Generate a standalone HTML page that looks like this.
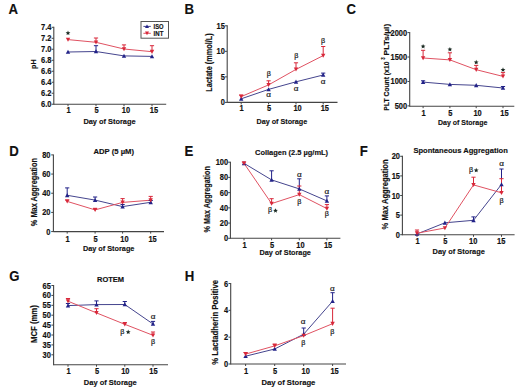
<!DOCTYPE html>
<html><head><meta charset="utf-8"><style>
html,body{margin:0;padding:0;background:#fff;width:520px;height:390px;overflow:hidden}
svg{display:block}
text{font-family:"Liberation Sans",sans-serif}
</style></head><body>
<svg width="520" height="390" viewBox="0 0 520 390">
<rect width="520" height="390" fill="#fff"/>
<text transform="translate(8.60,13.70) scale(0.88,1.035)" font-size="15" font-weight="bold" font-family="Liberation Sans" text-anchor="start" fill="#111" stroke="#111" stroke-width="0.15" >A</text>
<line x1="53.80" y1="26.80" x2="53.80" y2="104.70" stroke="#444" stroke-width="1.1"/>
<line x1="53.80" y1="104.20" x2="166.20" y2="104.20" stroke="#444" stroke-width="1.1"/>
<line x1="51.60" y1="27.30" x2="53.80" y2="27.30" stroke="#444" stroke-width="1.0"/>
<text transform="translate(51.40,30.30) scale(1,1.1)" font-size="7.5" font-weight="bold" font-family="Liberation Sans" text-anchor="end" fill="#111" stroke="#111" stroke-width="0.15" >7.4</text>
<line x1="51.60" y1="38.29" x2="53.80" y2="38.29" stroke="#444" stroke-width="1.0"/>
<text transform="translate(51.40,41.29) scale(1,1.1)" font-size="7.5" font-weight="bold" font-family="Liberation Sans" text-anchor="end" fill="#111" stroke="#111" stroke-width="0.15" >7.2</text>
<line x1="51.60" y1="49.28" x2="53.80" y2="49.28" stroke="#444" stroke-width="1.0"/>
<text transform="translate(51.40,52.28) scale(1,1.1)" font-size="7.5" font-weight="bold" font-family="Liberation Sans" text-anchor="end" fill="#111" stroke="#111" stroke-width="0.15" >7.0</text>
<line x1="51.60" y1="60.27" x2="53.80" y2="60.27" stroke="#444" stroke-width="1.0"/>
<text transform="translate(51.40,63.27) scale(1,1.1)" font-size="7.5" font-weight="bold" font-family="Liberation Sans" text-anchor="end" fill="#111" stroke="#111" stroke-width="0.15" >6.8</text>
<line x1="51.60" y1="71.26" x2="53.80" y2="71.26" stroke="#444" stroke-width="1.0"/>
<text transform="translate(51.40,74.26) scale(1,1.1)" font-size="7.5" font-weight="bold" font-family="Liberation Sans" text-anchor="end" fill="#111" stroke="#111" stroke-width="0.15" >6.6</text>
<line x1="51.60" y1="82.25" x2="53.80" y2="82.25" stroke="#444" stroke-width="1.0"/>
<text transform="translate(51.40,85.25) scale(1,1.1)" font-size="7.5" font-weight="bold" font-family="Liberation Sans" text-anchor="end" fill="#111" stroke="#111" stroke-width="0.15" >6.4</text>
<line x1="51.60" y1="93.24" x2="53.80" y2="93.24" stroke="#444" stroke-width="1.0"/>
<text transform="translate(51.40,96.24) scale(1,1.1)" font-size="7.5" font-weight="bold" font-family="Liberation Sans" text-anchor="end" fill="#111" stroke="#111" stroke-width="0.15" >6.2</text>
<line x1="51.60" y1="104.23" x2="53.80" y2="104.23" stroke="#444" stroke-width="1.0"/>
<text transform="translate(51.40,107.23) scale(1,1.1)" font-size="7.5" font-weight="bold" font-family="Liberation Sans" text-anchor="end" fill="#111" stroke="#111" stroke-width="0.15" >6.0</text>
<line x1="68.00" y1="104.20" x2="68.00" y2="106.20" stroke="#444" stroke-width="1.0"/>
<text transform="translate(68.50,113.30) scale(1,1.1)" font-size="7.5" font-weight="bold" font-family="Liberation Sans" text-anchor="middle" fill="#111" stroke="#111" stroke-width="0.15" >1</text>
<line x1="96.00" y1="104.20" x2="96.00" y2="106.20" stroke="#444" stroke-width="1.0"/>
<text transform="translate(96.50,113.30) scale(1,1.1)" font-size="7.5" font-weight="bold" font-family="Liberation Sans" text-anchor="middle" fill="#111" stroke="#111" stroke-width="0.15" >5</text>
<line x1="124.00" y1="104.20" x2="124.00" y2="106.20" stroke="#444" stroke-width="1.0"/>
<text transform="translate(126.00,113.30) scale(1,1.1)" font-size="7.5" font-weight="bold" font-family="Liberation Sans" text-anchor="middle" fill="#111" stroke="#111" stroke-width="0.15" >10</text>
<line x1="152.00" y1="104.20" x2="152.00" y2="106.20" stroke="#444" stroke-width="1.0"/>
<text transform="translate(154.00,113.30) scale(1,1.1)" font-size="7.5" font-weight="bold" font-family="Liberation Sans" text-anchor="middle" fill="#111" stroke="#111" stroke-width="0.15" >15</text>
<text transform="translate(109.50,124.10) scale(1,1.0)" font-size="7.5" font-weight="bold" font-family="Liberation Sans" text-anchor="middle" fill="#111" stroke="#111" stroke-width="0.15" textLength="52.2" lengthAdjust="spacingAndGlyphs">Day of Storage</text>
<text transform="translate(35.50,64.10) rotate(-90) scale(1,1.0)" x="0" y="0" font-size="7" font-weight="bold" font-family="Liberation Sans" text-anchor="middle" fill="#111" stroke="#111" stroke-width="0.15" textLength="9.6" lengthAdjust="spacingAndGlyphs">pH</text>
<polyline points="68.00,52.00 96.00,51.50 124.00,55.90 152.00,56.40" fill="none" stroke="#45458e" stroke-width="1.0"/>
<polyline points="68.00,39.60 96.00,42.30 124.00,49.00 152.00,51.70" fill="none" stroke="#e05262" stroke-width="1.0"/>
<line x1="96.00" y1="45.70" x2="96.00" y2="51.50" stroke="#222288" stroke-width="1.0"/>
<line x1="93.90" y1="45.70" x2="98.10" y2="45.70" stroke="#222288" stroke-width="1.0"/>
<line x1="96.00" y1="38.00" x2="96.00" y2="42.30" stroke="#d8283a" stroke-width="1.0"/>
<line x1="93.90" y1="38.00" x2="98.10" y2="38.00" stroke="#d8283a" stroke-width="1.0"/>
<line x1="124.00" y1="44.90" x2="124.00" y2="49.00" stroke="#d8283a" stroke-width="1.0"/>
<line x1="121.90" y1="44.90" x2="126.10" y2="44.90" stroke="#d8283a" stroke-width="1.0"/>
<line x1="152.00" y1="45.70" x2="152.00" y2="51.70" stroke="#d8283a" stroke-width="1.0"/>
<line x1="149.90" y1="45.70" x2="154.10" y2="45.70" stroke="#d8283a" stroke-width="1.0"/>
<path d="M65.80,53.87L70.20,53.87L68.00,49.80Z" fill="#222288"/>
<path d="M93.80,53.37L98.20,53.37L96.00,49.30Z" fill="#222288"/>
<path d="M121.80,57.77L126.20,57.77L124.00,53.70Z" fill="#222288"/>
<path d="M149.80,58.27L154.20,58.27L152.00,54.20Z" fill="#222288"/>
<path d="M65.80,37.73L70.20,37.73L68.00,41.80Z" fill="#d8283a"/>
<path d="M93.80,40.43L98.20,40.43L96.00,44.50Z" fill="#d8283a"/>
<path d="M121.80,47.13L126.20,47.13L124.00,51.20Z" fill="#d8283a"/>
<path d="M149.80,49.83L154.20,49.83L152.00,53.90Z" fill="#d8283a"/>
<polygon points="68.00,30.60 68.66,32.19 70.38,32.33 69.07,33.45 69.47,35.12 68.00,34.22 66.53,35.12 66.93,33.45 65.62,32.33 67.34,32.19" fill="#1a2a22"/>
<text transform="translate(184.50,13.70) scale(0.88,1.035)" font-size="15" font-weight="bold" font-family="Liberation Sans" text-anchor="start" fill="#111" stroke="#111" stroke-width="0.15" >B</text>
<line x1="227.20" y1="25.30" x2="227.20" y2="102.90" stroke="#444" stroke-width="1.1"/>
<line x1="227.20" y1="102.40" x2="337.50" y2="102.40" stroke="#444" stroke-width="1.1"/>
<line x1="225.00" y1="25.80" x2="227.20" y2="25.80" stroke="#444" stroke-width="1.0"/>
<text transform="translate(224.90,28.80) scale(1,1.1)" font-size="7.5" font-weight="bold" font-family="Liberation Sans" text-anchor="end" fill="#111" stroke="#111" stroke-width="0.15" >15</text>
<line x1="225.00" y1="51.33" x2="227.20" y2="51.33" stroke="#444" stroke-width="1.0"/>
<text transform="translate(224.90,54.33) scale(1,1.1)" font-size="7.5" font-weight="bold" font-family="Liberation Sans" text-anchor="end" fill="#111" stroke="#111" stroke-width="0.15" >10</text>
<line x1="225.00" y1="76.86" x2="227.20" y2="76.86" stroke="#444" stroke-width="1.0"/>
<text transform="translate(224.90,79.86) scale(1,1.1)" font-size="7.5" font-weight="bold" font-family="Liberation Sans" text-anchor="end" fill="#111" stroke="#111" stroke-width="0.15" >5</text>
<line x1="225.00" y1="102.39" x2="227.20" y2="102.39" stroke="#444" stroke-width="1.0"/>
<text transform="translate(224.90,105.39) scale(1,1.1)" font-size="7.5" font-weight="bold" font-family="Liberation Sans" text-anchor="end" fill="#111" stroke="#111" stroke-width="0.15" >0</text>
<line x1="241.20" y1="102.40" x2="241.20" y2="104.40" stroke="#444" stroke-width="1.0"/>
<text transform="translate(241.70,111.00) scale(1,1.1)" font-size="7.5" font-weight="bold" font-family="Liberation Sans" text-anchor="middle" fill="#111" stroke="#111" stroke-width="0.15" >1</text>
<line x1="268.60" y1="102.40" x2="268.60" y2="104.40" stroke="#444" stroke-width="1.0"/>
<text transform="translate(269.10,111.00) scale(1,1.1)" font-size="7.5" font-weight="bold" font-family="Liberation Sans" text-anchor="middle" fill="#111" stroke="#111" stroke-width="0.15" >5</text>
<line x1="296.00" y1="102.40" x2="296.00" y2="104.40" stroke="#444" stroke-width="1.0"/>
<text transform="translate(297.60,111.00) scale(1,1.1)" font-size="7.5" font-weight="bold" font-family="Liberation Sans" text-anchor="middle" fill="#111" stroke="#111" stroke-width="0.15" >10</text>
<line x1="323.20" y1="102.40" x2="323.20" y2="104.40" stroke="#444" stroke-width="1.0"/>
<text transform="translate(324.80,111.00) scale(1,1.1)" font-size="7.5" font-weight="bold" font-family="Liberation Sans" text-anchor="middle" fill="#111" stroke="#111" stroke-width="0.15" >15</text>
<text transform="translate(281.85,123.90) scale(1,1.0)" font-size="7.5" font-weight="bold" font-family="Liberation Sans" text-anchor="middle" fill="#111" stroke="#111" stroke-width="0.15" textLength="50.7" lengthAdjust="spacingAndGlyphs">Day of Storage</text>
<text transform="translate(212.30,62.55) rotate(-90) scale(1,1.1)" x="0" y="0" font-size="7.5" font-weight="bold" font-family="Liberation Sans" text-anchor="middle" fill="#111" stroke="#111" stroke-width="0.15" textLength="58.5" lengthAdjust="spacingAndGlyphs">Lactate (mmol/L)</text>
<polyline points="241.20,98.80 268.60,89.40 296.00,81.80 323.20,75.00" fill="none" stroke="#45458e" stroke-width="1.0"/>
<polyline points="241.20,96.60 268.60,84.90 296.00,69.40 323.20,55.60" fill="none" stroke="#e05262" stroke-width="1.0"/>
<line x1="323.20" y1="73.10" x2="323.20" y2="75.00" stroke="#222288" stroke-width="1.0"/>
<line x1="321.10" y1="73.10" x2="325.30" y2="73.10" stroke="#222288" stroke-width="1.0"/>
<line x1="241.20" y1="95.00" x2="241.20" y2="96.60" stroke="#d8283a" stroke-width="1.0"/>
<line x1="239.10" y1="95.00" x2="243.30" y2="95.00" stroke="#d8283a" stroke-width="1.0"/>
<line x1="268.60" y1="80.80" x2="268.60" y2="84.90" stroke="#d8283a" stroke-width="1.0"/>
<line x1="266.50" y1="80.80" x2="270.70" y2="80.80" stroke="#d8283a" stroke-width="1.0"/>
<line x1="296.00" y1="62.80" x2="296.00" y2="69.40" stroke="#d8283a" stroke-width="1.0"/>
<line x1="293.90" y1="62.80" x2="298.10" y2="62.80" stroke="#d8283a" stroke-width="1.0"/>
<line x1="323.20" y1="46.50" x2="323.20" y2="55.60" stroke="#d8283a" stroke-width="1.0"/>
<line x1="321.10" y1="46.50" x2="325.30" y2="46.50" stroke="#d8283a" stroke-width="1.0"/>
<path d="M239.00,100.67L243.40,100.67L241.20,96.60Z" fill="#222288"/>
<path d="M266.40,91.27L270.80,91.27L268.60,87.20Z" fill="#222288"/>
<path d="M293.80,83.67L298.20,83.67L296.00,79.60Z" fill="#222288"/>
<path d="M321.00,76.87L325.40,76.87L323.20,72.80Z" fill="#222288"/>
<path d="M239.00,94.73L243.40,94.73L241.20,98.80Z" fill="#d8283a"/>
<path d="M266.40,83.03L270.80,83.03L268.60,87.10Z" fill="#d8283a"/>
<path d="M293.80,67.53L298.20,67.53L296.00,71.60Z" fill="#d8283a"/>
<path d="M321.00,53.73L325.40,53.73L323.20,57.80Z" fill="#d8283a"/>
<text transform="translate(268.80,76.30) scale(1,1.0)" font-size="7.2" font-weight="normal" font-family="Liberation Serif" text-anchor="middle" fill="#181818" stroke="#181818" stroke-width="0.2" >β</text>
<text transform="translate(296.20,58.30) scale(1,1.0)" font-size="7.2" font-weight="normal" font-family="Liberation Serif" text-anchor="middle" fill="#181818" stroke="#181818" stroke-width="0.2" >β</text>
<text transform="translate(323.10,42.90) scale(1,1.0)" font-size="7.2" font-weight="normal" font-family="Liberation Serif" text-anchor="middle" fill="#181818" stroke="#181818" stroke-width="0.2" >β</text>
<text transform="translate(268.60,96.90) scale(1,0.82)" font-size="8.2" font-weight="normal" font-family="Liberation Serif" text-anchor="middle" fill="#181818" stroke="#181818" stroke-width="0.2" >α</text>
<text transform="translate(296.00,90.80) scale(1,0.82)" font-size="8.2" font-weight="normal" font-family="Liberation Serif" text-anchor="middle" fill="#181818" stroke="#181818" stroke-width="0.2" >α</text>
<text transform="translate(323.10,83.60) scale(1,0.82)" font-size="8.2" font-weight="normal" font-family="Liberation Serif" text-anchor="middle" fill="#181818" stroke="#181818" stroke-width="0.2" >α</text>
<text transform="translate(346.60,13.80) scale(0.88,1.035)" font-size="15" font-weight="bold" font-family="Liberation Sans" text-anchor="start" fill="#111" stroke="#111" stroke-width="0.15" >C</text>
<line x1="409.70" y1="32.10" x2="409.70" y2="106.70" stroke="#444" stroke-width="1.1"/>
<line x1="409.70" y1="106.20" x2="514.30" y2="106.20" stroke="#444" stroke-width="1.1"/>
<line x1="407.50" y1="32.60" x2="409.70" y2="32.60" stroke="#444" stroke-width="1.0"/>
<text transform="translate(407.20,35.60) scale(1,1.1)" font-size="7.5" font-weight="bold" font-family="Liberation Sans" text-anchor="end" fill="#111" stroke="#111" stroke-width="0.15" >2000</text>
<line x1="407.50" y1="57.03" x2="409.70" y2="57.03" stroke="#444" stroke-width="1.0"/>
<text transform="translate(407.20,60.03) scale(1,1.1)" font-size="7.5" font-weight="bold" font-family="Liberation Sans" text-anchor="end" fill="#111" stroke="#111" stroke-width="0.15" >1500</text>
<line x1="407.50" y1="81.46" x2="409.70" y2="81.46" stroke="#444" stroke-width="1.0"/>
<text transform="translate(407.20,84.46) scale(1,1.1)" font-size="7.5" font-weight="bold" font-family="Liberation Sans" text-anchor="end" fill="#111" stroke="#111" stroke-width="0.15" >1000</text>
<line x1="407.50" y1="105.89" x2="409.70" y2="105.89" stroke="#444" stroke-width="1.0"/>
<text transform="translate(407.20,108.89) scale(1,1.1)" font-size="7.5" font-weight="bold" font-family="Liberation Sans" text-anchor="end" fill="#111" stroke="#111" stroke-width="0.15" >500</text>
<line x1="423.10" y1="106.20" x2="423.10" y2="108.20" stroke="#444" stroke-width="1.0"/>
<text transform="translate(423.60,115.50) scale(1,1.1)" font-size="7.5" font-weight="bold" font-family="Liberation Sans" text-anchor="middle" fill="#111" stroke="#111" stroke-width="0.15" >1</text>
<line x1="449.90" y1="106.20" x2="449.90" y2="108.20" stroke="#444" stroke-width="1.0"/>
<text transform="translate(450.40,115.50) scale(1,1.1)" font-size="7.5" font-weight="bold" font-family="Liberation Sans" text-anchor="middle" fill="#111" stroke="#111" stroke-width="0.15" >5</text>
<line x1="476.20" y1="106.20" x2="476.20" y2="108.20" stroke="#444" stroke-width="1.0"/>
<text transform="translate(477.60,115.50) scale(1,1.1)" font-size="7.5" font-weight="bold" font-family="Liberation Sans" text-anchor="middle" fill="#111" stroke="#111" stroke-width="0.15" >10</text>
<line x1="503.00" y1="106.20" x2="503.00" y2="108.20" stroke="#444" stroke-width="1.0"/>
<text transform="translate(504.40,115.50) scale(1,1.1)" font-size="7.5" font-weight="bold" font-family="Liberation Sans" text-anchor="middle" fill="#111" stroke="#111" stroke-width="0.15" >15</text>
<text transform="translate(462.65,125.00) scale(1,1.0)" font-size="7.5" font-weight="bold" font-family="Liberation Sans" text-anchor="middle" fill="#111" stroke="#111" stroke-width="0.15" textLength="49.3" lengthAdjust="spacingAndGlyphs">Day of Storage</text>
<text transform="translate(389.00,86.15) rotate(-90) scale(1,1.1)" x="0" y="0" font-size="7.0" font-weight="bold" font-family="Liberation Sans" text-anchor="middle" fill="#111" stroke="#111" stroke-width="0.15" textLength="49.1" lengthAdjust="spacingAndGlyphs">PLT Count (x10</text>
<text transform="translate(385.00,58.60) rotate(-90) scale(1,1.1)" x="0" y="0" font-size="5.0" font-weight="bold" font-family="Liberation Sans" text-anchor="middle" fill="#111" stroke="#111" stroke-width="0.15" textLength="2.4" lengthAdjust="spacingAndGlyphs">3</text>
<text transform="translate(389.00,39.60) rotate(-90) scale(1,1.1)" x="0" y="0" font-size="7.0" font-weight="bold" font-family="Liberation Sans" text-anchor="middle" fill="#111" stroke="#111" stroke-width="0.15" textLength="31.6" lengthAdjust="spacingAndGlyphs">PLTs/µl)</text>
<polyline points="423.10,82.10 449.90,84.40 476.20,85.30 503.00,88.00" fill="none" stroke="#45458e" stroke-width="1.0"/>
<polyline points="423.10,58.00 449.90,59.90 476.20,69.70 503.00,76.40" fill="none" stroke="#e05262" stroke-width="1.0"/>
<line x1="423.10" y1="80.80" x2="423.10" y2="82.10" stroke="#222288" stroke-width="1.0"/>
<line x1="421.00" y1="80.80" x2="425.20" y2="80.80" stroke="#222288" stroke-width="1.0"/>
<line x1="503.00" y1="86.50" x2="503.00" y2="88.00" stroke="#222288" stroke-width="1.0"/>
<line x1="500.90" y1="86.50" x2="505.10" y2="86.50" stroke="#222288" stroke-width="1.0"/>
<line x1="423.10" y1="50.30" x2="423.10" y2="58.00" stroke="#d8283a" stroke-width="1.0"/>
<line x1="421.00" y1="50.30" x2="425.20" y2="50.30" stroke="#d8283a" stroke-width="1.0"/>
<line x1="449.90" y1="52.80" x2="449.90" y2="59.90" stroke="#d8283a" stroke-width="1.0"/>
<line x1="447.80" y1="52.80" x2="452.00" y2="52.80" stroke="#d8283a" stroke-width="1.0"/>
<line x1="476.20" y1="65.40" x2="476.20" y2="69.70" stroke="#d8283a" stroke-width="1.0"/>
<line x1="474.10" y1="65.40" x2="478.30" y2="65.40" stroke="#d8283a" stroke-width="1.0"/>
<line x1="503.00" y1="72.60" x2="503.00" y2="76.40" stroke="#d8283a" stroke-width="1.0"/>
<line x1="500.90" y1="72.60" x2="505.10" y2="72.60" stroke="#d8283a" stroke-width="1.0"/>
<path d="M420.90,83.97L425.30,83.97L423.10,79.90Z" fill="#222288"/>
<path d="M447.70,86.27L452.10,86.27L449.90,82.20Z" fill="#222288"/>
<path d="M474.00,87.17L478.40,87.17L476.20,83.10Z" fill="#222288"/>
<path d="M500.80,89.87L505.20,89.87L503.00,85.80Z" fill="#222288"/>
<path d="M420.90,56.13L425.30,56.13L423.10,60.20Z" fill="#d8283a"/>
<path d="M447.70,58.03L452.10,58.03L449.90,62.10Z" fill="#d8283a"/>
<path d="M474.00,67.83L478.40,67.83L476.20,71.90Z" fill="#d8283a"/>
<path d="M500.80,74.53L505.20,74.53L503.00,78.60Z" fill="#d8283a"/>
<polygon points="423.10,44.00 423.76,45.59 425.48,45.73 424.17,46.85 424.57,48.52 423.10,47.62 421.63,48.52 422.03,46.85 420.72,45.73 422.44,45.59" fill="#1a2a22"/>
<polygon points="449.90,47.00 450.56,48.59 452.28,48.73 450.97,49.85 451.37,51.52 449.90,50.62 448.43,51.52 448.83,49.85 447.52,48.73 449.24,48.59" fill="#1a2a22"/>
<polygon points="476.20,59.80 476.86,61.39 478.58,61.53 477.27,62.65 477.67,64.32 476.20,63.42 474.73,64.32 475.13,62.65 473.82,61.53 475.54,61.39" fill="#1a2a22"/>
<polygon points="503.00,67.30 503.66,68.89 505.38,69.03 504.07,70.15 504.47,71.82 503.00,70.92 501.53,71.82 501.93,70.15 500.62,69.03 502.34,68.89" fill="#1a2a22"/>
<text transform="translate(9.30,155.80) scale(0.88,1.035)" font-size="15" font-weight="bold" font-family="Liberation Sans" text-anchor="start" fill="#111" stroke="#111" stroke-width="0.15" >D</text>
<line x1="53.40" y1="154.40" x2="53.40" y2="232.10" stroke="#444" stroke-width="1.1"/>
<line x1="53.40" y1="231.60" x2="164.00" y2="231.60" stroke="#444" stroke-width="1.1"/>
<line x1="51.20" y1="154.90" x2="53.40" y2="154.90" stroke="#444" stroke-width="1.0"/>
<text transform="translate(50.50,157.90) scale(1,1.1)" font-size="7.5" font-weight="bold" font-family="Liberation Sans" text-anchor="end" fill="#111" stroke="#111" stroke-width="0.15" >80</text>
<line x1="51.20" y1="174.07" x2="53.40" y2="174.07" stroke="#444" stroke-width="1.0"/>
<text transform="translate(50.50,177.07) scale(1,1.1)" font-size="7.5" font-weight="bold" font-family="Liberation Sans" text-anchor="end" fill="#111" stroke="#111" stroke-width="0.15" >60</text>
<line x1="51.20" y1="193.24" x2="53.40" y2="193.24" stroke="#444" stroke-width="1.0"/>
<text transform="translate(50.50,196.24) scale(1,1.1)" font-size="7.5" font-weight="bold" font-family="Liberation Sans" text-anchor="end" fill="#111" stroke="#111" stroke-width="0.15" >40</text>
<line x1="51.20" y1="212.41" x2="53.40" y2="212.41" stroke="#444" stroke-width="1.0"/>
<text transform="translate(50.50,215.41) scale(1,1.1)" font-size="7.5" font-weight="bold" font-family="Liberation Sans" text-anchor="end" fill="#111" stroke="#111" stroke-width="0.15" >20</text>
<line x1="51.20" y1="231.58" x2="53.40" y2="231.58" stroke="#444" stroke-width="1.0"/>
<text transform="translate(50.50,234.58) scale(1,1.1)" font-size="7.5" font-weight="bold" font-family="Liberation Sans" text-anchor="end" fill="#111" stroke="#111" stroke-width="0.15" >0</text>
<line x1="67.20" y1="231.60" x2="67.20" y2="233.60" stroke="#444" stroke-width="1.0"/>
<text transform="translate(67.70,241.60) scale(1,1.1)" font-size="7.5" font-weight="bold" font-family="Liberation Sans" text-anchor="middle" fill="#111" stroke="#111" stroke-width="0.15" >1</text>
<line x1="95.10" y1="231.60" x2="95.10" y2="233.60" stroke="#444" stroke-width="1.0"/>
<text transform="translate(95.60,241.60) scale(1,1.1)" font-size="7.5" font-weight="bold" font-family="Liberation Sans" text-anchor="middle" fill="#111" stroke="#111" stroke-width="0.15" >5</text>
<line x1="122.60" y1="231.60" x2="122.60" y2="233.60" stroke="#444" stroke-width="1.0"/>
<text transform="translate(124.50,241.60) scale(1,1.1)" font-size="7.5" font-weight="bold" font-family="Liberation Sans" text-anchor="middle" fill="#111" stroke="#111" stroke-width="0.15" >10</text>
<line x1="150.70" y1="231.60" x2="150.70" y2="233.60" stroke="#444" stroke-width="1.0"/>
<text transform="translate(152.60,241.60) scale(1,1.1)" font-size="7.5" font-weight="bold" font-family="Liberation Sans" text-anchor="middle" fill="#111" stroke="#111" stroke-width="0.15" >15</text>
<text transform="translate(108.65,251.20) scale(1,1.0)" font-size="7.5" font-weight="bold" font-family="Liberation Sans" text-anchor="middle" fill="#111" stroke="#111" stroke-width="0.15" textLength="51.5" lengthAdjust="spacingAndGlyphs">Day of Storage</text>
<text transform="translate(36.80,192.15) rotate(-90) scale(1,1.1)" x="0" y="0" font-size="7.5" font-weight="bold" font-family="Liberation Sans" text-anchor="middle" fill="#111" stroke="#111" stroke-width="0.15" textLength="68.1" lengthAdjust="spacingAndGlyphs">% Max Aggregation</text>
<text transform="translate(113.75,154.20) scale(1,1.0)" font-size="7.3" font-weight="bold" font-family="Liberation Sans" text-anchor="middle" fill="#111" stroke="#111" stroke-width="0.15" textLength="40.5" lengthAdjust="spacingAndGlyphs">ADP (5 µM)</text>
<polyline points="67.20,195.30 95.10,200.10 122.60,206.60 150.70,202.30" fill="none" stroke="#45458e" stroke-width="1.0"/>
<polyline points="67.20,201.40 95.10,209.90 122.60,202.40 150.70,200.20" fill="none" stroke="#e05262" stroke-width="1.0"/>
<line x1="67.20" y1="187.90" x2="67.20" y2="195.30" stroke="#222288" stroke-width="1.0"/>
<line x1="65.10" y1="187.90" x2="69.30" y2="187.90" stroke="#222288" stroke-width="1.0"/>
<line x1="95.10" y1="197.00" x2="95.10" y2="200.10" stroke="#222288" stroke-width="1.0"/>
<line x1="93.00" y1="197.00" x2="97.20" y2="197.00" stroke="#222288" stroke-width="1.0"/>
<line x1="122.60" y1="204.50" x2="122.60" y2="206.60" stroke="#222288" stroke-width="1.0"/>
<line x1="120.50" y1="204.50" x2="124.70" y2="204.50" stroke="#222288" stroke-width="1.0"/>
<line x1="150.70" y1="200.50" x2="150.70" y2="202.30" stroke="#222288" stroke-width="1.0"/>
<line x1="148.60" y1="200.50" x2="152.80" y2="200.50" stroke="#222288" stroke-width="1.0"/>
<line x1="67.20" y1="200.00" x2="67.20" y2="201.40" stroke="#d8283a" stroke-width="1.0"/>
<line x1="65.10" y1="200.00" x2="69.30" y2="200.00" stroke="#d8283a" stroke-width="1.0"/>
<line x1="95.10" y1="208.30" x2="95.10" y2="209.90" stroke="#d8283a" stroke-width="1.0"/>
<line x1="93.00" y1="208.30" x2="97.20" y2="208.30" stroke="#d8283a" stroke-width="1.0"/>
<line x1="122.60" y1="198.60" x2="122.60" y2="202.40" stroke="#d8283a" stroke-width="1.0"/>
<line x1="120.50" y1="198.60" x2="124.70" y2="198.60" stroke="#d8283a" stroke-width="1.0"/>
<line x1="150.70" y1="196.40" x2="150.70" y2="200.20" stroke="#d8283a" stroke-width="1.0"/>
<line x1="148.60" y1="196.40" x2="152.80" y2="196.40" stroke="#d8283a" stroke-width="1.0"/>
<path d="M65.00,197.17L69.40,197.17L67.20,193.10Z" fill="#222288"/>
<path d="M92.90,201.97L97.30,201.97L95.10,197.90Z" fill="#222288"/>
<path d="M120.40,208.47L124.80,208.47L122.60,204.40Z" fill="#222288"/>
<path d="M148.50,204.17L152.90,204.17L150.70,200.10Z" fill="#222288"/>
<path d="M65.00,199.53L69.40,199.53L67.20,203.60Z" fill="#d8283a"/>
<path d="M92.90,208.03L97.30,208.03L95.10,212.10Z" fill="#d8283a"/>
<path d="M120.40,200.53L124.80,200.53L122.60,204.60Z" fill="#d8283a"/>
<path d="M148.50,198.33L152.90,198.33L150.70,202.40Z" fill="#d8283a"/>
<text transform="translate(184.60,155.80) scale(0.88,1.035)" font-size="15" font-weight="bold" font-family="Liberation Sans" text-anchor="start" fill="#111" stroke="#111" stroke-width="0.15" >E</text>
<line x1="230.40" y1="161.70" x2="230.40" y2="238.80" stroke="#444" stroke-width="1.1"/>
<line x1="230.40" y1="238.30" x2="340.40" y2="238.30" stroke="#444" stroke-width="1.1"/>
<line x1="228.20" y1="162.20" x2="230.40" y2="162.20" stroke="#444" stroke-width="1.0"/>
<text transform="translate(228.20,165.20) scale(1,1.1)" font-size="7.5" font-weight="bold" font-family="Liberation Sans" text-anchor="end" fill="#111" stroke="#111" stroke-width="0.15" >100</text>
<line x1="228.20" y1="177.42" x2="230.40" y2="177.42" stroke="#444" stroke-width="1.0"/>
<text transform="translate(228.20,180.42) scale(1,1.1)" font-size="7.5" font-weight="bold" font-family="Liberation Sans" text-anchor="end" fill="#111" stroke="#111" stroke-width="0.15" >80</text>
<line x1="228.20" y1="192.64" x2="230.40" y2="192.64" stroke="#444" stroke-width="1.0"/>
<text transform="translate(228.20,195.64) scale(1,1.1)" font-size="7.5" font-weight="bold" font-family="Liberation Sans" text-anchor="end" fill="#111" stroke="#111" stroke-width="0.15" >60</text>
<line x1="228.20" y1="207.86" x2="230.40" y2="207.86" stroke="#444" stroke-width="1.0"/>
<text transform="translate(228.20,210.86) scale(1,1.1)" font-size="7.5" font-weight="bold" font-family="Liberation Sans" text-anchor="end" fill="#111" stroke="#111" stroke-width="0.15" >40</text>
<line x1="228.20" y1="223.08" x2="230.40" y2="223.08" stroke="#444" stroke-width="1.0"/>
<text transform="translate(228.20,226.08) scale(1,1.1)" font-size="7.5" font-weight="bold" font-family="Liberation Sans" text-anchor="end" fill="#111" stroke="#111" stroke-width="0.15" >20</text>
<line x1="228.20" y1="238.30" x2="230.40" y2="238.30" stroke="#444" stroke-width="1.0"/>
<text transform="translate(228.20,241.30) scale(1,1.1)" font-size="7.5" font-weight="bold" font-family="Liberation Sans" text-anchor="end" fill="#111" stroke="#111" stroke-width="0.15" >0</text>
<line x1="244.00" y1="238.30" x2="244.00" y2="240.30" stroke="#444" stroke-width="1.0"/>
<text transform="translate(244.50,247.60) scale(1,1.1)" font-size="7.5" font-weight="bold" font-family="Liberation Sans" text-anchor="middle" fill="#111" stroke="#111" stroke-width="0.15" >1</text>
<line x1="271.60" y1="238.30" x2="271.60" y2="240.30" stroke="#444" stroke-width="1.0"/>
<text transform="translate(272.10,247.60) scale(1,1.1)" font-size="7.5" font-weight="bold" font-family="Liberation Sans" text-anchor="middle" fill="#111" stroke="#111" stroke-width="0.15" >5</text>
<line x1="299.30" y1="238.30" x2="299.30" y2="240.30" stroke="#444" stroke-width="1.0"/>
<text transform="translate(300.50,247.60) scale(1,1.1)" font-size="7.5" font-weight="bold" font-family="Liberation Sans" text-anchor="middle" fill="#111" stroke="#111" stroke-width="0.15" >10</text>
<line x1="326.90" y1="238.30" x2="326.90" y2="240.30" stroke="#444" stroke-width="1.0"/>
<text transform="translate(328.10,247.60) scale(1,1.1)" font-size="7.5" font-weight="bold" font-family="Liberation Sans" text-anchor="middle" fill="#111" stroke="#111" stroke-width="0.15" >15</text>
<text transform="translate(285.20,255.00) scale(1,1.0)" font-size="7.5" font-weight="bold" font-family="Liberation Sans" text-anchor="middle" fill="#111" stroke="#111" stroke-width="0.15" textLength="51.4" lengthAdjust="spacingAndGlyphs">Day of Storage</text>
<text transform="translate(209.80,199.30) rotate(-90) scale(1,1.1)" x="0" y="0" font-size="7.5" font-weight="bold" font-family="Liberation Sans" text-anchor="middle" fill="#111" stroke="#111" stroke-width="0.15" textLength="66.2" lengthAdjust="spacingAndGlyphs">% Max Aggregation</text>
<text transform="translate(291.55,154.80) scale(1,1.0)" font-size="7.3" font-weight="bold" font-family="Liberation Sans" text-anchor="middle" fill="#111" stroke="#111" stroke-width="0.15" textLength="73.1" lengthAdjust="spacingAndGlyphs">Collagen (2.5 µg/mL)</text>
<polyline points="244.00,163.30 271.60,179.90 299.30,188.90 326.90,200.90" fill="none" stroke="#45458e" stroke-width="1.0"/>
<polyline points="244.00,163.30 271.60,203.60 299.30,194.60 326.90,208.60" fill="none" stroke="#e05262" stroke-width="1.0"/>
<line x1="271.60" y1="170.80" x2="271.60" y2="179.90" stroke="#222288" stroke-width="1.0"/>
<line x1="269.50" y1="170.80" x2="273.70" y2="170.80" stroke="#222288" stroke-width="1.0"/>
<line x1="299.30" y1="178.80" x2="299.30" y2="188.90" stroke="#222288" stroke-width="1.0"/>
<line x1="297.20" y1="178.80" x2="301.40" y2="178.80" stroke="#222288" stroke-width="1.0"/>
<line x1="326.90" y1="195.90" x2="326.90" y2="200.90" stroke="#222288" stroke-width="1.0"/>
<line x1="324.80" y1="195.90" x2="329.00" y2="195.90" stroke="#222288" stroke-width="1.0"/>
<line x1="244.00" y1="162.00" x2="244.00" y2="163.30" stroke="#d8283a" stroke-width="1.0"/>
<line x1="241.90" y1="162.00" x2="246.10" y2="162.00" stroke="#d8283a" stroke-width="1.0"/>
<line x1="271.60" y1="198.70" x2="271.60" y2="203.60" stroke="#d8283a" stroke-width="1.0"/>
<line x1="269.50" y1="198.70" x2="273.70" y2="198.70" stroke="#d8283a" stroke-width="1.0"/>
<line x1="299.30" y1="186.00" x2="299.30" y2="194.60" stroke="#d8283a" stroke-width="1.0"/>
<line x1="297.20" y1="186.00" x2="301.40" y2="186.00" stroke="#d8283a" stroke-width="1.0"/>
<line x1="326.90" y1="204.60" x2="326.90" y2="208.60" stroke="#d8283a" stroke-width="1.0"/>
<line x1="324.80" y1="204.60" x2="329.00" y2="204.60" stroke="#d8283a" stroke-width="1.0"/>
<path d="M241.80,165.17L246.20,165.17L244.00,161.10Z" fill="#222288"/>
<path d="M269.40,181.77L273.80,181.77L271.60,177.70Z" fill="#222288"/>
<path d="M297.10,190.77L301.50,190.77L299.30,186.70Z" fill="#222288"/>
<path d="M324.70,202.77L329.10,202.77L326.90,198.70Z" fill="#222288"/>
<path d="M241.80,161.43L246.20,161.43L244.00,165.50Z" fill="#d8283a"/>
<path d="M269.40,201.73L273.80,201.73L271.60,205.80Z" fill="#d8283a"/>
<path d="M297.10,192.73L301.50,192.73L299.30,196.80Z" fill="#d8283a"/>
<path d="M324.70,206.73L329.10,206.73L326.90,210.80Z" fill="#d8283a"/>
<text transform="translate(299.30,176.60) scale(1,0.82)" font-size="8.2" font-weight="normal" font-family="Liberation Serif" text-anchor="middle" fill="#181818" stroke="#181818" stroke-width="0.2" >α</text>
<text transform="translate(326.90,194.00) scale(1,0.82)" font-size="8.2" font-weight="normal" font-family="Liberation Serif" text-anchor="middle" fill="#181818" stroke="#181818" stroke-width="0.2" >α</text>
<text transform="translate(270.10,212.10) scale(1,1.0)" font-size="7.2" font-weight="normal" font-family="Liberation Serif" text-anchor="middle" fill="#181818" stroke="#181818" stroke-width="0.2" >β</text>
<polygon points="275.50,208.20 276.16,209.79 277.88,209.93 276.57,211.05 276.97,212.72 275.50,211.83 274.03,212.72 274.43,211.05 273.12,209.93 274.84,209.79" fill="#1a2a22"/>
<text transform="translate(299.40,204.00) scale(1,1.0)" font-size="7.2" font-weight="normal" font-family="Liberation Serif" text-anchor="middle" fill="#181818" stroke="#181818" stroke-width="0.2" >β</text>
<text transform="translate(326.90,215.70) scale(1,1.0)" font-size="7.2" font-weight="normal" font-family="Liberation Serif" text-anchor="middle" fill="#181818" stroke="#181818" stroke-width="0.2" >β</text>
<text transform="translate(359.70,155.80) scale(0.88,1.035)" font-size="15" font-weight="bold" font-family="Liberation Sans" text-anchor="start" fill="#111" stroke="#111" stroke-width="0.15" >F</text>
<line x1="402.40" y1="155.70" x2="402.40" y2="235.30" stroke="#444" stroke-width="1.1"/>
<line x1="402.40" y1="234.80" x2="514.60" y2="234.80" stroke="#444" stroke-width="1.1"/>
<line x1="400.20" y1="156.30" x2="402.40" y2="156.30" stroke="#444" stroke-width="1.0"/>
<text transform="translate(400.00,159.30) scale(1,1.1)" font-size="7.5" font-weight="bold" font-family="Liberation Sans" text-anchor="end" fill="#111" stroke="#111" stroke-width="0.15" >20</text>
<line x1="400.20" y1="175.90" x2="402.40" y2="175.90" stroke="#444" stroke-width="1.0"/>
<text transform="translate(400.00,178.90) scale(1,1.1)" font-size="7.5" font-weight="bold" font-family="Liberation Sans" text-anchor="end" fill="#111" stroke="#111" stroke-width="0.15" >15</text>
<line x1="400.20" y1="195.50" x2="402.40" y2="195.50" stroke="#444" stroke-width="1.0"/>
<text transform="translate(400.00,198.50) scale(1,1.1)" font-size="7.5" font-weight="bold" font-family="Liberation Sans" text-anchor="end" fill="#111" stroke="#111" stroke-width="0.15" >10</text>
<line x1="400.20" y1="215.10" x2="402.40" y2="215.10" stroke="#444" stroke-width="1.0"/>
<text transform="translate(400.00,218.10) scale(1,1.1)" font-size="7.5" font-weight="bold" font-family="Liberation Sans" text-anchor="end" fill="#111" stroke="#111" stroke-width="0.15" >5</text>
<line x1="400.20" y1="234.70" x2="402.40" y2="234.70" stroke="#444" stroke-width="1.0"/>
<text transform="translate(400.00,237.70) scale(1,1.1)" font-size="7.5" font-weight="bold" font-family="Liberation Sans" text-anchor="end" fill="#111" stroke="#111" stroke-width="0.15" >0</text>
<line x1="417.00" y1="234.80" x2="417.00" y2="236.80" stroke="#444" stroke-width="1.0"/>
<text transform="translate(417.50,244.30) scale(1,1.1)" font-size="7.5" font-weight="bold" font-family="Liberation Sans" text-anchor="middle" fill="#111" stroke="#111" stroke-width="0.15" >1</text>
<line x1="444.90" y1="234.80" x2="444.90" y2="236.80" stroke="#444" stroke-width="1.0"/>
<text transform="translate(445.40,244.30) scale(1,1.1)" font-size="7.5" font-weight="bold" font-family="Liberation Sans" text-anchor="middle" fill="#111" stroke="#111" stroke-width="0.15" >5</text>
<line x1="473.50" y1="234.80" x2="473.50" y2="236.80" stroke="#444" stroke-width="1.0"/>
<text transform="translate(473.20,244.30) scale(1,1.1)" font-size="7.5" font-weight="bold" font-family="Liberation Sans" text-anchor="middle" fill="#111" stroke="#111" stroke-width="0.15" >10</text>
<line x1="501.50" y1="234.80" x2="501.50" y2="236.80" stroke="#444" stroke-width="1.0"/>
<text transform="translate(501.20,244.30) scale(1,1.1)" font-size="7.5" font-weight="bold" font-family="Liberation Sans" text-anchor="middle" fill="#111" stroke="#111" stroke-width="0.15" >15</text>
<text transform="translate(458.70,254.30) scale(1,1.0)" font-size="7.5" font-weight="bold" font-family="Liberation Sans" text-anchor="middle" fill="#111" stroke="#111" stroke-width="0.15" textLength="52.2" lengthAdjust="spacingAndGlyphs">Day of Storage</text>
<text transform="translate(387.80,194.40) rotate(-90) scale(1,1.1)" x="0" y="0" font-size="7.5" font-weight="bold" font-family="Liberation Sans" text-anchor="middle" fill="#111" stroke="#111" stroke-width="0.15" textLength="70.0" lengthAdjust="spacingAndGlyphs">% Max Aggregation</text>
<text transform="translate(460.60,152.80) scale(1,1.0)" font-size="7.3" font-weight="bold" font-family="Liberation Sans" text-anchor="middle" fill="#111" stroke="#111" stroke-width="0.15" textLength="94.4" lengthAdjust="spacingAndGlyphs">Spontaneous Aggregation</text>
<polyline points="417.00,234.00 444.90,222.80 473.50,220.30 501.50,184.40" fill="none" stroke="#45458e" stroke-width="1.0"/>
<polyline points="417.00,233.20 444.90,228.00 473.50,184.90 501.50,192.80" fill="none" stroke="#e05262" stroke-width="1.0"/>
<line x1="473.50" y1="216.90" x2="473.50" y2="220.30" stroke="#222288" stroke-width="1.0"/>
<line x1="471.40" y1="216.90" x2="475.60" y2="216.90" stroke="#222288" stroke-width="1.0"/>
<line x1="501.50" y1="169.00" x2="501.50" y2="184.40" stroke="#222288" stroke-width="1.0"/>
<line x1="499.40" y1="169.00" x2="503.60" y2="169.00" stroke="#222288" stroke-width="1.0"/>
<line x1="417.00" y1="230.00" x2="417.00" y2="233.20" stroke="#d8283a" stroke-width="1.0"/>
<line x1="414.90" y1="230.00" x2="419.10" y2="230.00" stroke="#d8283a" stroke-width="1.0"/>
<line x1="473.50" y1="177.20" x2="473.50" y2="184.90" stroke="#d8283a" stroke-width="1.0"/>
<line x1="471.40" y1="177.20" x2="475.60" y2="177.20" stroke="#d8283a" stroke-width="1.0"/>
<line x1="501.50" y1="178.70" x2="501.50" y2="192.80" stroke="#d8283a" stroke-width="1.0"/>
<line x1="499.40" y1="178.70" x2="503.60" y2="178.70" stroke="#d8283a" stroke-width="1.0"/>
<path d="M414.80,235.87L419.20,235.87L417.00,231.80Z" fill="#222288"/>
<path d="M442.70,224.67L447.10,224.67L444.90,220.60Z" fill="#222288"/>
<path d="M471.30,222.17L475.70,222.17L473.50,218.10Z" fill="#222288"/>
<path d="M499.30,186.27L503.70,186.27L501.50,182.20Z" fill="#222288"/>
<path d="M414.80,231.33L419.20,231.33L417.00,235.40Z" fill="#d8283a"/>
<path d="M442.70,226.13L447.10,226.13L444.90,230.20Z" fill="#d8283a"/>
<path d="M471.30,183.03L475.70,183.03L473.50,187.10Z" fill="#d8283a"/>
<path d="M499.30,190.93L503.70,190.93L501.50,195.00Z" fill="#d8283a"/>
<text transform="translate(471.00,171.70) scale(1,1.0)" font-size="7.2" font-weight="normal" font-family="Liberation Serif" text-anchor="middle" fill="#181818" stroke="#181818" stroke-width="0.2" >β</text>
<polygon points="476.20,167.80 476.86,169.39 478.58,169.53 477.27,170.65 477.67,172.32 476.20,171.43 474.73,172.32 475.13,170.65 473.82,169.53 475.54,169.39" fill="#1a2a22"/>
<text transform="translate(501.50,165.90) scale(1,0.82)" font-size="8.2" font-weight="normal" font-family="Liberation Serif" text-anchor="middle" fill="#181818" stroke="#181818" stroke-width="0.2" >α</text>
<text transform="translate(501.50,202.70) scale(1,1.0)" font-size="7.2" font-weight="normal" font-family="Liberation Serif" text-anchor="middle" fill="#181818" stroke="#181818" stroke-width="0.2" >β</text>
<text transform="translate(9.30,280.70) scale(0.88,1.035)" font-size="15" font-weight="bold" font-family="Liberation Sans" text-anchor="start" fill="#111" stroke="#111" stroke-width="0.15" >G</text>
<line x1="53.60" y1="285.00" x2="53.60" y2="365.20" stroke="#444" stroke-width="1.1"/>
<line x1="53.60" y1="364.70" x2="168.00" y2="364.70" stroke="#444" stroke-width="1.1"/>
<line x1="51.40" y1="285.50" x2="53.60" y2="285.50" stroke="#444" stroke-width="1.0"/>
<text transform="translate(50.80,288.50) scale(1,1.1)" font-size="7.5" font-weight="bold" font-family="Liberation Sans" text-anchor="end" fill="#111" stroke="#111" stroke-width="0.15" >65</text>
<line x1="51.40" y1="295.40" x2="53.60" y2="295.40" stroke="#444" stroke-width="1.0"/>
<text transform="translate(50.80,298.40) scale(1,1.1)" font-size="7.5" font-weight="bold" font-family="Liberation Sans" text-anchor="end" fill="#111" stroke="#111" stroke-width="0.15" >60</text>
<line x1="51.40" y1="305.30" x2="53.60" y2="305.30" stroke="#444" stroke-width="1.0"/>
<text transform="translate(50.80,308.30) scale(1,1.1)" font-size="7.5" font-weight="bold" font-family="Liberation Sans" text-anchor="end" fill="#111" stroke="#111" stroke-width="0.15" >55</text>
<line x1="51.40" y1="315.20" x2="53.60" y2="315.20" stroke="#444" stroke-width="1.0"/>
<text transform="translate(50.80,318.20) scale(1,1.1)" font-size="7.5" font-weight="bold" font-family="Liberation Sans" text-anchor="end" fill="#111" stroke="#111" stroke-width="0.15" >50</text>
<line x1="51.40" y1="325.10" x2="53.60" y2="325.10" stroke="#444" stroke-width="1.0"/>
<text transform="translate(50.80,328.10) scale(1,1.1)" font-size="7.5" font-weight="bold" font-family="Liberation Sans" text-anchor="end" fill="#111" stroke="#111" stroke-width="0.15" >45</text>
<line x1="51.40" y1="335.00" x2="53.60" y2="335.00" stroke="#444" stroke-width="1.0"/>
<text transform="translate(50.80,338.00) scale(1,1.1)" font-size="7.5" font-weight="bold" font-family="Liberation Sans" text-anchor="end" fill="#111" stroke="#111" stroke-width="0.15" >40</text>
<line x1="51.40" y1="344.90" x2="53.60" y2="344.90" stroke="#444" stroke-width="1.0"/>
<text transform="translate(50.80,347.90) scale(1,1.1)" font-size="7.5" font-weight="bold" font-family="Liberation Sans" text-anchor="end" fill="#111" stroke="#111" stroke-width="0.15" >35</text>
<line x1="51.40" y1="354.80" x2="53.60" y2="354.80" stroke="#444" stroke-width="1.0"/>
<text transform="translate(50.80,357.80) scale(1,1.1)" font-size="7.5" font-weight="bold" font-family="Liberation Sans" text-anchor="end" fill="#111" stroke="#111" stroke-width="0.15" >30</text>
<line x1="68.00" y1="364.70" x2="68.00" y2="366.70" stroke="#444" stroke-width="1.0"/>
<text transform="translate(68.50,373.50) scale(1,1.1)" font-size="7.5" font-weight="bold" font-family="Liberation Sans" text-anchor="middle" fill="#111" stroke="#111" stroke-width="0.15" >1</text>
<line x1="96.50" y1="364.70" x2="96.50" y2="366.70" stroke="#444" stroke-width="1.0"/>
<text transform="translate(97.00,373.50) scale(1,1.1)" font-size="7.5" font-weight="bold" font-family="Liberation Sans" text-anchor="middle" fill="#111" stroke="#111" stroke-width="0.15" >5</text>
<line x1="124.80" y1="364.70" x2="124.80" y2="366.70" stroke="#444" stroke-width="1.0"/>
<text transform="translate(125.30,373.50) scale(1,1.1)" font-size="7.5" font-weight="bold" font-family="Liberation Sans" text-anchor="middle" fill="#111" stroke="#111" stroke-width="0.15" >10</text>
<line x1="153.00" y1="364.70" x2="153.00" y2="366.70" stroke="#444" stroke-width="1.0"/>
<text transform="translate(153.50,373.50) scale(1,1.1)" font-size="7.5" font-weight="bold" font-family="Liberation Sans" text-anchor="middle" fill="#111" stroke="#111" stroke-width="0.15" >15</text>
<text transform="translate(110.30,384.90) scale(1,1.0)" font-size="7.5" font-weight="bold" font-family="Liberation Sans" text-anchor="middle" fill="#111" stroke="#111" stroke-width="0.15" textLength="53.0" lengthAdjust="spacingAndGlyphs">Day of Storage</text>
<text transform="translate(36.60,324.10) rotate(-90) scale(1,1.1)" x="0" y="0" font-size="7.5" font-weight="bold" font-family="Liberation Sans" text-anchor="middle" fill="#111" stroke="#111" stroke-width="0.15" textLength="37.8" lengthAdjust="spacingAndGlyphs">MCF (mm)</text>
<text transform="translate(110.55,282.00) scale(1,1.0)" font-size="7.3" font-weight="bold" font-family="Liberation Sans" text-anchor="middle" fill="#111" stroke="#111" stroke-width="0.15" textLength="27.1" lengthAdjust="spacingAndGlyphs">ROTEM</text>
<polyline points="68.00,305.60 96.50,304.60 124.80,304.50 153.00,324.00" fill="none" stroke="#45458e" stroke-width="1.0"/>
<polyline points="68.00,301.20 96.50,312.90 124.80,324.30 153.00,335.30" fill="none" stroke="#e05262" stroke-width="1.0"/>
<line x1="68.00" y1="303.50" x2="68.00" y2="305.60" stroke="#222288" stroke-width="1.0"/>
<line x1="65.90" y1="303.50" x2="70.10" y2="303.50" stroke="#222288" stroke-width="1.0"/>
<line x1="96.50" y1="300.90" x2="96.50" y2="304.60" stroke="#222288" stroke-width="1.0"/>
<line x1="94.40" y1="300.90" x2="98.60" y2="300.90" stroke="#222288" stroke-width="1.0"/>
<line x1="124.80" y1="301.50" x2="124.80" y2="304.50" stroke="#222288" stroke-width="1.0"/>
<line x1="122.70" y1="301.50" x2="126.90" y2="301.50" stroke="#222288" stroke-width="1.0"/>
<line x1="153.00" y1="321.40" x2="153.00" y2="324.00" stroke="#222288" stroke-width="1.0"/>
<line x1="150.90" y1="321.40" x2="155.10" y2="321.40" stroke="#222288" stroke-width="1.0"/>
<line x1="68.00" y1="298.50" x2="68.00" y2="301.20" stroke="#d8283a" stroke-width="1.0"/>
<line x1="65.90" y1="298.50" x2="70.10" y2="298.50" stroke="#d8283a" stroke-width="1.0"/>
<line x1="96.50" y1="308.70" x2="96.50" y2="312.90" stroke="#d8283a" stroke-width="1.0"/>
<line x1="94.40" y1="308.70" x2="98.60" y2="308.70" stroke="#d8283a" stroke-width="1.0"/>
<line x1="124.80" y1="322.50" x2="124.80" y2="324.30" stroke="#d8283a" stroke-width="1.0"/>
<line x1="122.70" y1="322.50" x2="126.90" y2="322.50" stroke="#d8283a" stroke-width="1.0"/>
<line x1="153.00" y1="332.00" x2="153.00" y2="335.30" stroke="#d8283a" stroke-width="1.0"/>
<line x1="150.90" y1="332.00" x2="155.10" y2="332.00" stroke="#d8283a" stroke-width="1.0"/>
<path d="M65.80,307.47L70.20,307.47L68.00,303.40Z" fill="#222288"/>
<path d="M94.30,306.47L98.70,306.47L96.50,302.40Z" fill="#222288"/>
<path d="M122.60,306.37L127.00,306.37L124.80,302.30Z" fill="#222288"/>
<path d="M150.80,325.87L155.20,325.87L153.00,321.80Z" fill="#222288"/>
<path d="M65.80,299.33L70.20,299.33L68.00,303.40Z" fill="#d8283a"/>
<path d="M94.30,311.03L98.70,311.03L96.50,315.10Z" fill="#d8283a"/>
<path d="M122.60,322.43L127.00,322.43L124.80,326.50Z" fill="#d8283a"/>
<path d="M150.80,333.43L155.20,333.43L153.00,337.50Z" fill="#d8283a"/>
<text transform="translate(153.00,319.00) scale(1,0.82)" font-size="8.2" font-weight="normal" font-family="Liberation Serif" text-anchor="middle" fill="#181818" stroke="#181818" stroke-width="0.2" >α</text>
<text transform="translate(122.40,334.30) scale(1,1.0)" font-size="7.2" font-weight="normal" font-family="Liberation Serif" text-anchor="middle" fill="#181818" stroke="#181818" stroke-width="0.2" >β</text>
<polygon points="128.20,329.60 128.86,331.19 130.58,331.33 129.27,332.45 129.67,334.12 128.20,333.23 126.73,334.12 127.13,332.45 125.82,331.33 127.54,331.19" fill="#1a2a22"/>
<text transform="translate(153.00,344.30) scale(1,1.0)" font-size="7.2" font-weight="normal" font-family="Liberation Serif" text-anchor="middle" fill="#181818" stroke="#181818" stroke-width="0.2" >β</text>
<text transform="translate(184.80,280.80) scale(0.88,1.035)" font-size="15" font-weight="bold" font-family="Liberation Sans" text-anchor="start" fill="#111" stroke="#111" stroke-width="0.15" >H</text>
<line x1="230.70" y1="283.00" x2="230.70" y2="364.50" stroke="#444" stroke-width="1.1"/>
<line x1="230.70" y1="364.00" x2="346.00" y2="364.00" stroke="#444" stroke-width="1.1"/>
<line x1="228.50" y1="283.50" x2="230.70" y2="283.50" stroke="#444" stroke-width="1.0"/>
<text transform="translate(228.20,286.50) scale(1,1.1)" font-size="7.5" font-weight="bold" font-family="Liberation Sans" text-anchor="end" fill="#111" stroke="#111" stroke-width="0.15" >6</text>
<line x1="228.50" y1="310.33" x2="230.70" y2="310.33" stroke="#444" stroke-width="1.0"/>
<text transform="translate(228.20,313.33) scale(1,1.1)" font-size="7.5" font-weight="bold" font-family="Liberation Sans" text-anchor="end" fill="#111" stroke="#111" stroke-width="0.15" >4</text>
<line x1="228.50" y1="337.16" x2="230.70" y2="337.16" stroke="#444" stroke-width="1.0"/>
<text transform="translate(228.20,340.16) scale(1,1.1)" font-size="7.5" font-weight="bold" font-family="Liberation Sans" text-anchor="end" fill="#111" stroke="#111" stroke-width="0.15" >2</text>
<line x1="228.50" y1="363.99" x2="230.70" y2="363.99" stroke="#444" stroke-width="1.0"/>
<text transform="translate(228.20,366.99) scale(1,1.1)" font-size="7.5" font-weight="bold" font-family="Liberation Sans" text-anchor="end" fill="#111" stroke="#111" stroke-width="0.15" >0</text>
<line x1="245.60" y1="364.00" x2="245.60" y2="366.00" stroke="#444" stroke-width="1.0"/>
<text transform="translate(246.10,373.70) scale(1,1.1)" font-size="7.5" font-weight="bold" font-family="Liberation Sans" text-anchor="middle" fill="#111" stroke="#111" stroke-width="0.15" >1</text>
<line x1="274.70" y1="364.00" x2="274.70" y2="366.00" stroke="#444" stroke-width="1.0"/>
<text transform="translate(275.20,373.70) scale(1,1.1)" font-size="7.5" font-weight="bold" font-family="Liberation Sans" text-anchor="middle" fill="#111" stroke="#111" stroke-width="0.15" >5</text>
<line x1="303.70" y1="364.00" x2="303.70" y2="366.00" stroke="#444" stroke-width="1.0"/>
<text transform="translate(305.70,373.70) scale(1,1.1)" font-size="7.5" font-weight="bold" font-family="Liberation Sans" text-anchor="middle" fill="#111" stroke="#111" stroke-width="0.15" >10</text>
<line x1="332.60" y1="364.00" x2="332.60" y2="366.00" stroke="#444" stroke-width="1.0"/>
<text transform="translate(334.60,373.70) scale(1,1.1)" font-size="7.5" font-weight="bold" font-family="Liberation Sans" text-anchor="middle" fill="#111" stroke="#111" stroke-width="0.15" >15</text>
<text transform="translate(288.35,384.60) scale(1,1.0)" font-size="7.5" font-weight="bold" font-family="Liberation Sans" text-anchor="middle" fill="#111" stroke="#111" stroke-width="0.15" textLength="53.9" lengthAdjust="spacingAndGlyphs">Day of Storage</text>
<text transform="translate(218.10,322.35) rotate(-90) scale(1,1.1)" x="0" y="0" font-size="7.5" font-weight="bold" font-family="Liberation Sans" text-anchor="middle" fill="#111" stroke="#111" stroke-width="0.15" textLength="84.9" lengthAdjust="spacingAndGlyphs">% Lactadherin Positive</text>
<polyline points="245.60,356.20 274.70,349.00 303.70,334.20 332.60,301.20" fill="none" stroke="#45458e" stroke-width="1.0"/>
<polyline points="245.60,354.10 274.70,345.90 303.70,335.60 332.60,323.70" fill="none" stroke="#e05262" stroke-width="1.0"/>
<line x1="303.70" y1="328.00" x2="303.70" y2="334.20" stroke="#222288" stroke-width="1.0"/>
<line x1="301.60" y1="328.00" x2="305.80" y2="328.00" stroke="#222288" stroke-width="1.0"/>
<line x1="332.60" y1="292.70" x2="332.60" y2="301.20" stroke="#222288" stroke-width="1.0"/>
<line x1="330.50" y1="292.70" x2="334.70" y2="292.70" stroke="#222288" stroke-width="1.0"/>
<line x1="245.60" y1="352.50" x2="245.60" y2="354.10" stroke="#d8283a" stroke-width="1.0"/>
<line x1="243.50" y1="352.50" x2="247.70" y2="352.50" stroke="#d8283a" stroke-width="1.0"/>
<line x1="274.70" y1="344.00" x2="274.70" y2="345.90" stroke="#d8283a" stroke-width="1.0"/>
<line x1="272.60" y1="344.00" x2="276.80" y2="344.00" stroke="#d8283a" stroke-width="1.0"/>
<line x1="332.60" y1="308.20" x2="332.60" y2="323.70" stroke="#d8283a" stroke-width="1.0"/>
<line x1="330.50" y1="308.20" x2="334.70" y2="308.20" stroke="#d8283a" stroke-width="1.0"/>
<path d="M243.40,358.07L247.80,358.07L245.60,354.00Z" fill="#222288"/>
<path d="M272.50,350.87L276.90,350.87L274.70,346.80Z" fill="#222288"/>
<path d="M301.50,336.07L305.90,336.07L303.70,332.00Z" fill="#222288"/>
<path d="M330.40,303.07L334.80,303.07L332.60,299.00Z" fill="#222288"/>
<path d="M243.40,352.23L247.80,352.23L245.60,356.30Z" fill="#d8283a"/>
<path d="M272.50,344.03L276.90,344.03L274.70,348.10Z" fill="#d8283a"/>
<path d="M301.50,333.73L305.90,333.73L303.70,337.80Z" fill="#d8283a"/>
<path d="M330.40,321.83L334.80,321.83L332.60,325.90Z" fill="#d8283a"/>
<text transform="translate(303.20,324.40) scale(1,0.82)" font-size="8.2" font-weight="normal" font-family="Liberation Serif" text-anchor="middle" fill="#181818" stroke="#181818" stroke-width="0.2" >α</text>
<text transform="translate(332.30,290.60) scale(1,0.82)" font-size="8.2" font-weight="normal" font-family="Liberation Serif" text-anchor="middle" fill="#181818" stroke="#181818" stroke-width="0.2" >α</text>
<text transform="translate(303.20,345.20) scale(1,1.0)" font-size="7.2" font-weight="normal" font-family="Liberation Serif" text-anchor="middle" fill="#181818" stroke="#181818" stroke-width="0.2" >β</text>
<text transform="translate(332.30,333.90) scale(1,1.0)" font-size="7.2" font-weight="normal" font-family="Liberation Serif" text-anchor="middle" fill="#181818" stroke="#181818" stroke-width="0.2" >β</text>
<rect x="141" y="21.5" width="27.5" height="16.7" fill="#fff" stroke="#555" stroke-width="1"/>
<line x1="143.40" y1="26.40" x2="150.80" y2="26.40" stroke="#45458e" stroke-width="1"/>
<path d="M145.00,28.10L149.00,28.10L147.00,24.40Z" fill="#222288"/>
<line x1="143.40" y1="33.30" x2="150.80" y2="33.30" stroke="#e05262" stroke-width="1"/>
<path d="M145.00,31.60L149.00,31.60L147.00,35.30Z" fill="#d8283a"/>
<text transform="translate(153.60,28.90) scale(1,1.1)" font-size="6.6" font-weight="bold" font-family="Liberation Sans" text-anchor="start" fill="#111" stroke="#111" stroke-width="0.15" textLength="10" lengthAdjust="spacingAndGlyphs">ISO</text>
<text transform="translate(153.60,36.00) scale(1,1.1)" font-size="6.6" font-weight="bold" font-family="Liberation Sans" text-anchor="start" fill="#111" stroke="#111" stroke-width="0.15" textLength="9.8" lengthAdjust="spacingAndGlyphs">INT</text>
</svg>
</body></html>
